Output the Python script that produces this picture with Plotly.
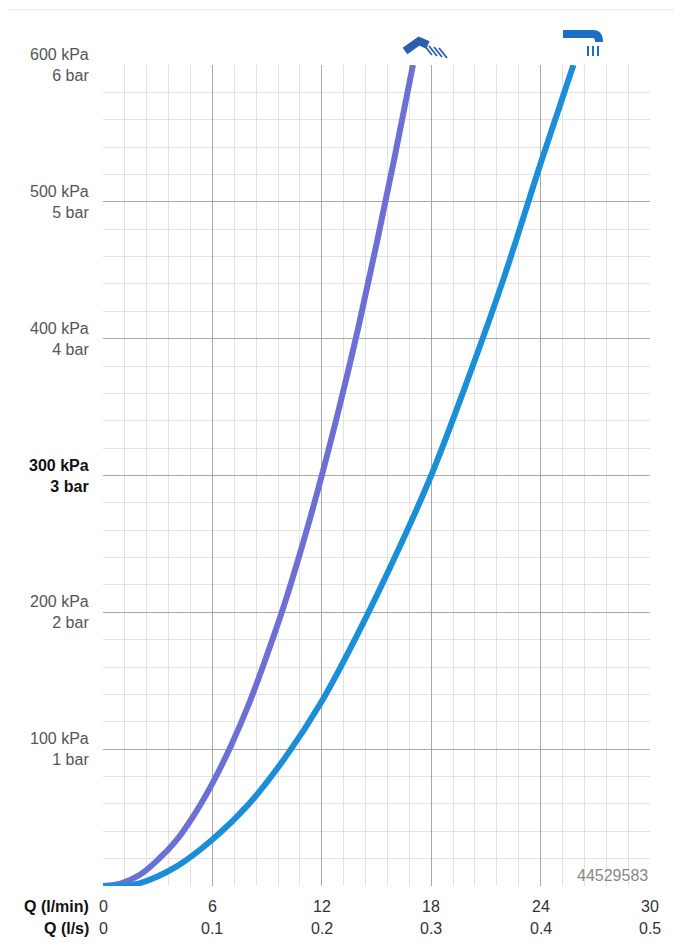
import plotly.graph_objects as go

# flow (l/min) vs pressure (kPa)
hand_q = [0, 1, 2, 3, 4, 5, 6, 7, 8, 9, 10, 11, 12, 13, 14, 15, 16, 17]
hand_p = [0, 2, 8, 19, 33, 52, 75, 102, 133, 169, 208, 252, 300, 352, 408, 469, 533, 600]
spout_q = [0, 1, 2, 4, 6, 8, 10, 12, 14, 16, 18, 20, 22, 24, 25.8]
spout_p = [0, 0, 2, 14, 34, 60, 94, 135, 185, 240, 300, 370, 445, 528, 600]

y_kpa = [100, 200, 300, 400, 500, 600]
x_lmin = [0, 6, 12, 18, 24, 30]
x_ls = ["0", "0.1", "0.2", "0.3", "0.4", "0.5"]

# page body has an 8px margin, so the figure is drawn 8px in
OFF = 8
W, H = 682 - 2 * OFF, 952 - 2 * OFF
L, T = 103 - OFF, 65 - OFF
PW, PH = 547, 821
R, B = W - L - PW, H - T - PH


def px(x):
    return (x - OFF - L) / PW


def py(y):
    return (T + PH - (y - OFF)) / PH


fig = go.Figure()
fig.add_trace(go.Scatter(x=hand_q, y=hand_p, mode="lines", line=dict(color="#6c70d4", width=6, shape="spline")))
fig.add_trace(go.Scatter(x=spout_q, y=spout_p, mode="lines", line=dict(color="#1a8fd8", width=6, shape="spline")))

grid = dict(showgrid=True, gridcolor="#a8a8a8", gridwidth=1,
            minor=dict(showgrid=True, gridcolor="#e2e2e2", gridwidth=1),
            showticklabels=False, zeroline=False, ticks="", showline=False)
fig.update_xaxes(range=[0, 30], dtick=6, minor_dtick=1.2, **grid)
fig.update_yaxes(range=[0, 600], dtick=100, minor_dtick=20, **grid)

ann = []
for v in y_kpa:
    bold = v == 300
    t = f"{v} kPa<br>{v // 100} bar"
    if bold:
        t = f"<b>{v} kPa<br>{v // 100} bar</b>"
    ann.append(dict(x=0, xref="paper", xanchor="right", xshift=-12, y=v, yref="y",
                    yanchor="top" if v != 600 else "middle", yshift=21 if v != 600 else 0,
                    text=t, showarrow=False, align="right",
                    font=dict(size=16, color="#111" if bold else "#555")))
for q, s in zip(x_lmin, x_ls):
    ann.append(dict(x=q, y=0, yref="paper", yshift=-31, text=str(q), showarrow=False,
                    font=dict(size=16, color="#333")))
    ann.append(dict(x=q, y=0, yref="paper", yshift=-53, text=s, showarrow=False,
                    font=dict(size=16, color="#333")))
ann.append(dict(x=0, xref="paper", xanchor="right", xshift=-12, y=0, yref="paper", yshift=-31,
                text="<b>Q (l/min)</b>", showarrow=False, font=dict(size=16, color="#111")))
ann.append(dict(x=0, xref="paper", xanchor="right", xshift=-12, y=0, yref="paper", yshift=-53,
                text="<b>Q (l/s)</b>", showarrow=False, font=dict(size=16, color="#111")))
ann.append(dict(x=1, xref="paper", xanchor="right", y=0, yref="paper", yanchor="bottom",
                text="44529583", showarrow=False, font=dict(size=16, color="#888")))

shapes = [
    dict(type="line", xref="paper", yref="paper", x0=px(0), x1=px(682), y0=py(10), y1=py(10),
         line=dict(color="#e5e5e5", width=1)),
    # hand shower icon
    dict(type="path", xref="paper", yref="paper", line=dict(color="#2a5fb0", width=8),
         path=f"M {px(405)} {py(51)} L {px(419)} {py(41)} L {px(428)} {py(45)}"),
    # spout icon
    dict(type="path", xref="paper", yref="paper", line=dict(color="#1a6fc4", width=8),
         path=f"M {px(563)} {py(34)} L {px(593)} {py(34)} Q {px(599)} {py(34)} {px(599)} {py(42)}"),
]
for i in range(3):
    shapes.append(dict(type="line", xref="paper", yref="paper", x0=px(588 + i * 5), x1=px(588 + i * 5),
                       y0=py(46), y1=py(56), line=dict(color="#1a6fc4", width=2)))
for i in range(4):
    shapes.append(dict(type="line", xref="paper", yref="paper", x0=px(424 + i * 5), x1=px(432 + i * 5),
                       y0=py(45 + i), y1=py(55 + i), line=dict(color="#2a5fb0", width=1.8)))

fig.update_layout(width=W, height=H, margin=dict(l=L, r=R, t=T, b=B, autoexpand=False),
                  plot_bgcolor="white", paper_bgcolor="white", showlegend=False,
                  font=dict(family="Liberation Sans, Arial"), annotations=ann, shapes=shapes)
fig.write_html("out.html")
